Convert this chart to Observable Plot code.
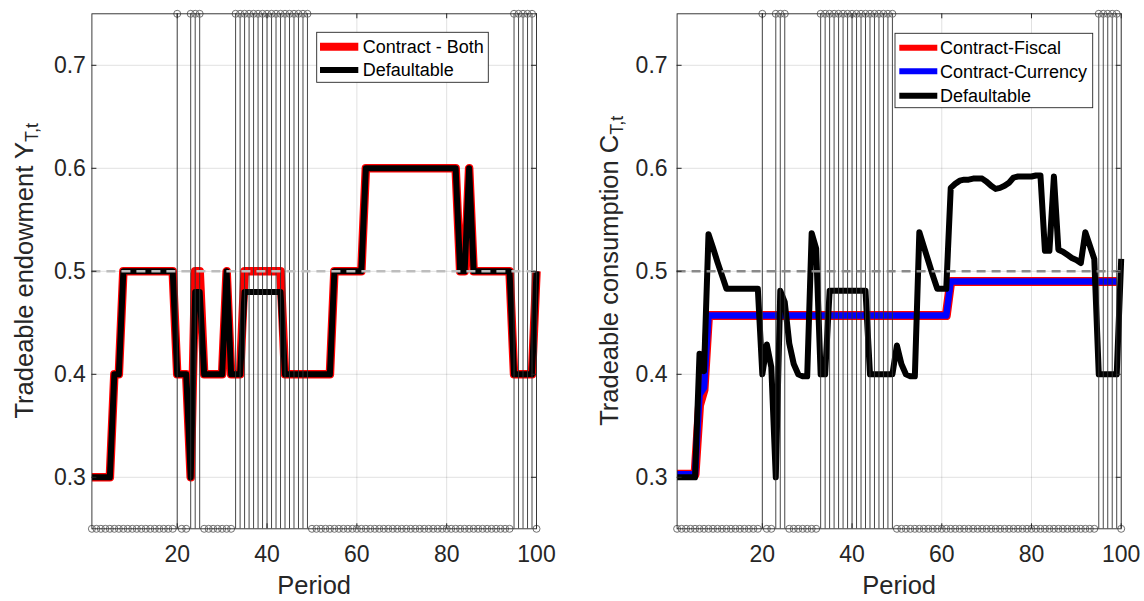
<!DOCTYPE html>
<html><head><meta charset="utf-8">
<script src="https://cdn.jsdelivr.net/npm/d3@7"></script>
<script src="https://cdn.jsdelivr.net/npm/@observablehq/plot@0.6"></script>
<style>
html,body{margin:0;padding:0;background:#fff;}
#wrap{display:flex;width:1144px;height:601px;overflow:hidden;}
#wrap > div{width:572px;height:601px;flex:none;}
svg{display:block;}
</style></head><body><div id="wrap"><div id="left"></div><div id="right"></div></div>
<script>
// ---------- data ----------
const periods = d3.range(1, 101);
const defaultPeriods = [20,23,24,25,33,34,35,36,37,38,39,40,41,42,43,44,45,46,47,48,49,95,96,97,98,99];
const xTicks = [20,40,60,80,100];
const yTicks = [0.3,0.4,0.5,0.6,0.7];
const refLevel = 0.5;

// Left panel: tradeable endowment
const endowContractBoth = [
  0.30,0.30,0.30,0.30,0.30,0.40,0.40,0.50,0.50,0.50,
  0.50,0.50,0.50,0.50,0.50,0.50,0.50,0.50,0.50,0.40,
  0.40,0.40,0.30,0.50,0.50,0.40,0.40,0.40,0.40,0.40,
  0.50,0.40,0.40,0.40,0.50,0.50,0.50,0.50,0.50,0.50,
  0.50,0.50,0.50,0.40,0.40,0.40,0.40,0.40,0.40,0.40,
  0.40,0.40,0.40,0.40,0.50,0.50,0.50,0.50,0.50,0.50,
  0.50,0.60,0.60,0.60,0.60,0.60,0.60,0.60,0.60,0.60,
  0.60,0.60,0.60,0.60,0.60,0.60,0.60,0.60,0.60,0.60,
  0.60,0.60,0.50,0.50,0.60,0.50,0.50,0.50,0.50,0.50,
  0.50,0.50,0.50,0.50,0.40,0.40,0.40,0.40,0.40,0.50
];
const endowDefaultable = [
  0.30,0.30,0.30,0.30,0.30,0.40,0.40,0.50,0.50,0.50,
  0.50,0.50,0.50,0.50,0.50,0.50,0.50,0.50,0.50,0.40,
  0.40,0.40,0.30,0.48,0.48,0.40,0.40,0.40,0.40,0.40,
  0.50,0.40,0.40,0.40,0.48,0.48,0.48,0.48,0.48,0.48,
  0.48,0.48,0.48,0.40,0.40,0.40,0.40,0.40,0.40,0.40,
  0.40,0.40,0.40,0.40,0.50,0.50,0.50,0.50,0.50,0.50,
  0.50,0.60,0.60,0.60,0.60,0.60,0.60,0.60,0.60,0.60,
  0.60,0.60,0.60,0.60,0.60,0.60,0.60,0.60,0.60,0.60,
  0.60,0.60,0.50,0.50,0.60,0.50,0.50,0.50,0.50,0.50,
  0.50,0.50,0.50,0.50,0.40,0.40,0.40,0.40,0.40,0.50
];

// Right panel: tradeable consumption
const consFiscal = [
  0.303,0.303,0.303,0.303,0.303,0.370,0.385,0.457,0.457,0.457,
  0.457,0.457,0.457,0.457,0.457,0.457,0.457,0.457,0.457,0.457,
  0.457,0.457,0.457,0.457,0.457,0.457,0.457,0.457,0.457,0.457,
  0.457,0.457,0.457,0.457,0.457,0.457,0.457,0.457,0.457,0.457,
  0.457,0.457,0.457,0.457,0.457,0.457,0.457,0.457,0.457,0.457,
  0.457,0.457,0.457,0.457,0.457,0.457,0.457,0.457,0.457,0.457,
  0.457,0.490,0.490,0.490,0.490,0.490,0.490,0.490,0.490,0.490,
  0.490,0.490,0.490,0.490,0.490,0.490,0.490,0.490,0.490,0.490,
  0.490,0.490,0.490,0.490,0.490,0.490,0.490,0.490,0.490,0.490,
  0.490,0.490,0.490,0.490,0.490,0.490,0.490,0.490,0.490
];
const consCurrency = [
  0.303,0.303,0.303,0.303,0.303,0.380,0.387,0.457,0.457,0.457,
  0.457,0.457,0.457,0.457,0.457,0.457,0.457,0.457,0.457,0.457,
  0.457,0.457,0.457,0.457,0.457,0.457,0.457,0.457,0.457,0.457,
  0.457,0.457,0.457,0.457,0.457,0.457,0.457,0.457,0.457,0.457,
  0.457,0.457,0.457,0.457,0.457,0.457,0.457,0.457,0.457,0.457,
  0.457,0.457,0.457,0.457,0.457,0.457,0.457,0.457,0.457,0.457,
  0.457,0.490,0.490,0.490,0.490,0.490,0.490,0.490,0.490,0.490,
  0.490,0.490,0.490,0.490,0.490,0.490,0.490,0.490,0.490,0.490,
  0.490,0.490,0.490,0.490,0.490,0.490,0.490,0.490,0.490,0.490,
  0.490,0.490,0.490,0.490,0.490,0.490,0.490,0.490,0.490
];
const consDefaultable = [
  0.300,0.300,0.300,0.300,0.300,0.420,0.403,0.536,0.523,0.509,
  0.496,0.483,0.483,0.483,0.483,0.483,0.483,0.483,0.483,0.400,
  0.429,0.407,0.300,0.481,0.470,0.430,0.410,0.400,0.398,0.398,
  0.537,0.522,0.400,0.400,0.481,0.481,0.481,0.481,0.481,0.481,
  0.481,0.481,0.481,0.400,0.400,0.400,0.400,0.400,0.400,0.428,
  0.410,0.400,0.398,0.398,0.538,0.524,0.510,0.496,0.483,0.483,
  0.483,0.581,0.585,0.588,0.589,0.589,0.590,0.590,0.590,0.587,
  0.583,0.580,0.581,0.583,0.586,0.591,0.592,0.592,0.592,0.592,
  0.593,0.593,0.520,0.520,0.592,0.521,0.519,0.516,0.513,0.511,
  0.508,0.538,0.525,0.512,0.400,0.400,0.400,0.400,0.400,0.512
];

// ---------- drawing ----------
const FONT = '"Liberation Sans", Arial, Helvetica, sans-serif';
const INK = "#262626";
const stems = periods.map(p => ({p, level: defaultPeriods.includes(p) ? 0.75 : 0.25}));

function panel(cfg) {
  const W = 572, H = 601, mT = 13.3, mB = 72.7;
  const plotW = W - cfg.marginLeft - cfg.marginRight, plotH = H - mT - mB;
  const chart = Plot.plot({
    width: W, height: H,
    marginLeft: cfg.marginLeft, marginRight: cfg.marginRight, marginTop: mT, marginBottom: mB,
    x: {domain: [1, 100]},
    y: {domain: [0.25, 0.75]},
    style: {fontFamily: FONT, color: INK, background: "#fff", overflow: "visible"},
    marks: [
      Plot.gridX({ticks: xTicks, stroke: "#000", strokeOpacity: 0.12}),
      Plot.gridY({ticks: yTicks, stroke: "#000", strokeOpacity: 0.12}),
      ...cfg.series.map(s => Plot.line(s.values, {
        x: (d, i) => periods[i], y: d => d,
        stroke: s.color, strokeWidth: s.width,
        strokeLinejoin: "round", strokeLinecap: "butt"
      })),
      Plot.ruleX(stems.filter(d => d.level === 0.75), {x: "p", y1: 0.25, y2: 0.75, stroke: "#333", strokeWidth: 0.9}),
      Plot.dot(stems, {x: "p", y: "level", r: 3.5, stroke: "#707070", strokeWidth: 1, fill: "none"}),
      Plot.ruleY([refLevel], {stroke: cfg.refColor, strokeWidth: 2.5, strokeDasharray: "9,6"}),
      Plot.frame({stroke: INK, strokeWidth: 0.9}),
      // inward ticks on all four sides
      Plot.tickX(xTicks, {x: d => d, insetTop: plotH - 5, stroke: INK}),
      Plot.tickX(xTicks, {x: d => d, insetBottom: plotH - 5, stroke: INK}),
      Plot.tickY(yTicks, {y: d => d, insetRight: plotW - 5, stroke: INK}),
      Plot.tickY(yTicks, {y: d => d, insetLeft: plotW - 5, stroke: INK}),
      Plot.axisX({ticks: xTicks, tickSize: 0, tickPadding: 17, fontSize: 23, label: null, tickFormat: d => String(d)}),
      Plot.axisY({ticks: yTicks, tickSize: 0, tickPadding: cfg.yPad, fontSize: 23, label: null, tickFormat: d => d.toFixed(1)}),
      Plot.text(["Period"], {text: d => d, frameAnchor: "bottom", lineAnchor: "middle", dy: 57, fontSize: 25.5, fill: INK})
    ]
  });

  const svg = d3.select(chart);
  // y-axis label with subscript
  const cy = mT + plotH / 2;
  const t = svg.append("text")
    .attr("transform", `translate(${cfg.yLabelX},${cy}) rotate(-90)`)
    .attr("text-anchor", "middle")
    .attr("font-family", FONT).attr("font-size", 25.5).attr("fill", INK);
  t.append("tspan").text(cfg.yLabel);
  t.append("tspan").attr("font-size", 18).attr("dy", "0.3em").text(cfg.yLabelSub);

  // legend
  const L = cfg.legend;
  const g = svg.append("g").attr("text-anchor", "start");
  g.append("rect").attr("x", L.x).attr("y", L.y).attr("width", L.w).attr("height", L.h)
    .attr("fill", "#fff").attr("stroke", INK).attr("stroke-width", 0.9);
  L.items.forEach((it, i) => {
    const yy = L.rowY[i];
    g.append("line").attr("x1", L.sx1).attr("x2", L.sx2).attr("y1", yy).attr("y2", yy)
      .attr("stroke", it.color).attr("stroke-width", it.width);
    g.append("text").attr("x", L.tx).attr("y", yy).attr("dy", "0.35em")
      .attr("text-anchor", "start")
      .attr("font-family", FONT).attr("font-size", 18).attr("fill", "#000").text(it.label);
  });
  return chart;
}

document.getElementById("left").append(panel({
  marginLeft: 91.4, marginRight: 36, yPad: 6, refColor: "#bdbdbd",
  yLabelX: 33, yLabel: "Tradeable endowment Y", yLabelSub: "T,t",
  series: [
    {values: endowContractBoth, color: "#ff0000", width: 8.5},
    {values: endowDefaultable, color: "#000000", width: 6}
  ],
  legend: {
    x: 316.7, y: 32.3, w: 171.6, h: 50, sx1: 320, sx2: 358.3, tx: 362.7, rowY: [46.7, 70],
    items: [
      {label: "Contract - Both", color: "#ff0000", width: 8},
      {label: "Defaultable", color: "#000000", width: 6}
    ]
  }
}));

document.getElementById("right").append(panel({
  marginLeft: 104.6, marginRight: 23.3, yPad: 9.5, refColor: "#8a8a8a",
  yLabelX: 46, yLabel: "Tradeable consumption C", yLabelSub: "T,t",
  series: [
    {values: consFiscal, color: "#ff0000", width: 9},
    {values: consCurrency, color: "#0000ff", width: 6.5},
    {values: consDefaultable, color: "#000000", width: 6}
  ],
  legend: {
    x: 323, y: 33.3, w: 197.7, h: 74.4, sx1: 327.3, sx2: 365.3, tx: 368, rowY: [47.7, 71.3, 95.7],
    items: [
      {label: "Contract-Fiscal", color: "#ff0000", width: 6},
      {label: "Contract-Currency", color: "#0000ff", width: 6},
      {label: "Defaultable", color: "#000000", width: 6}
    ]
  }
}));
</script>
</body></html>
